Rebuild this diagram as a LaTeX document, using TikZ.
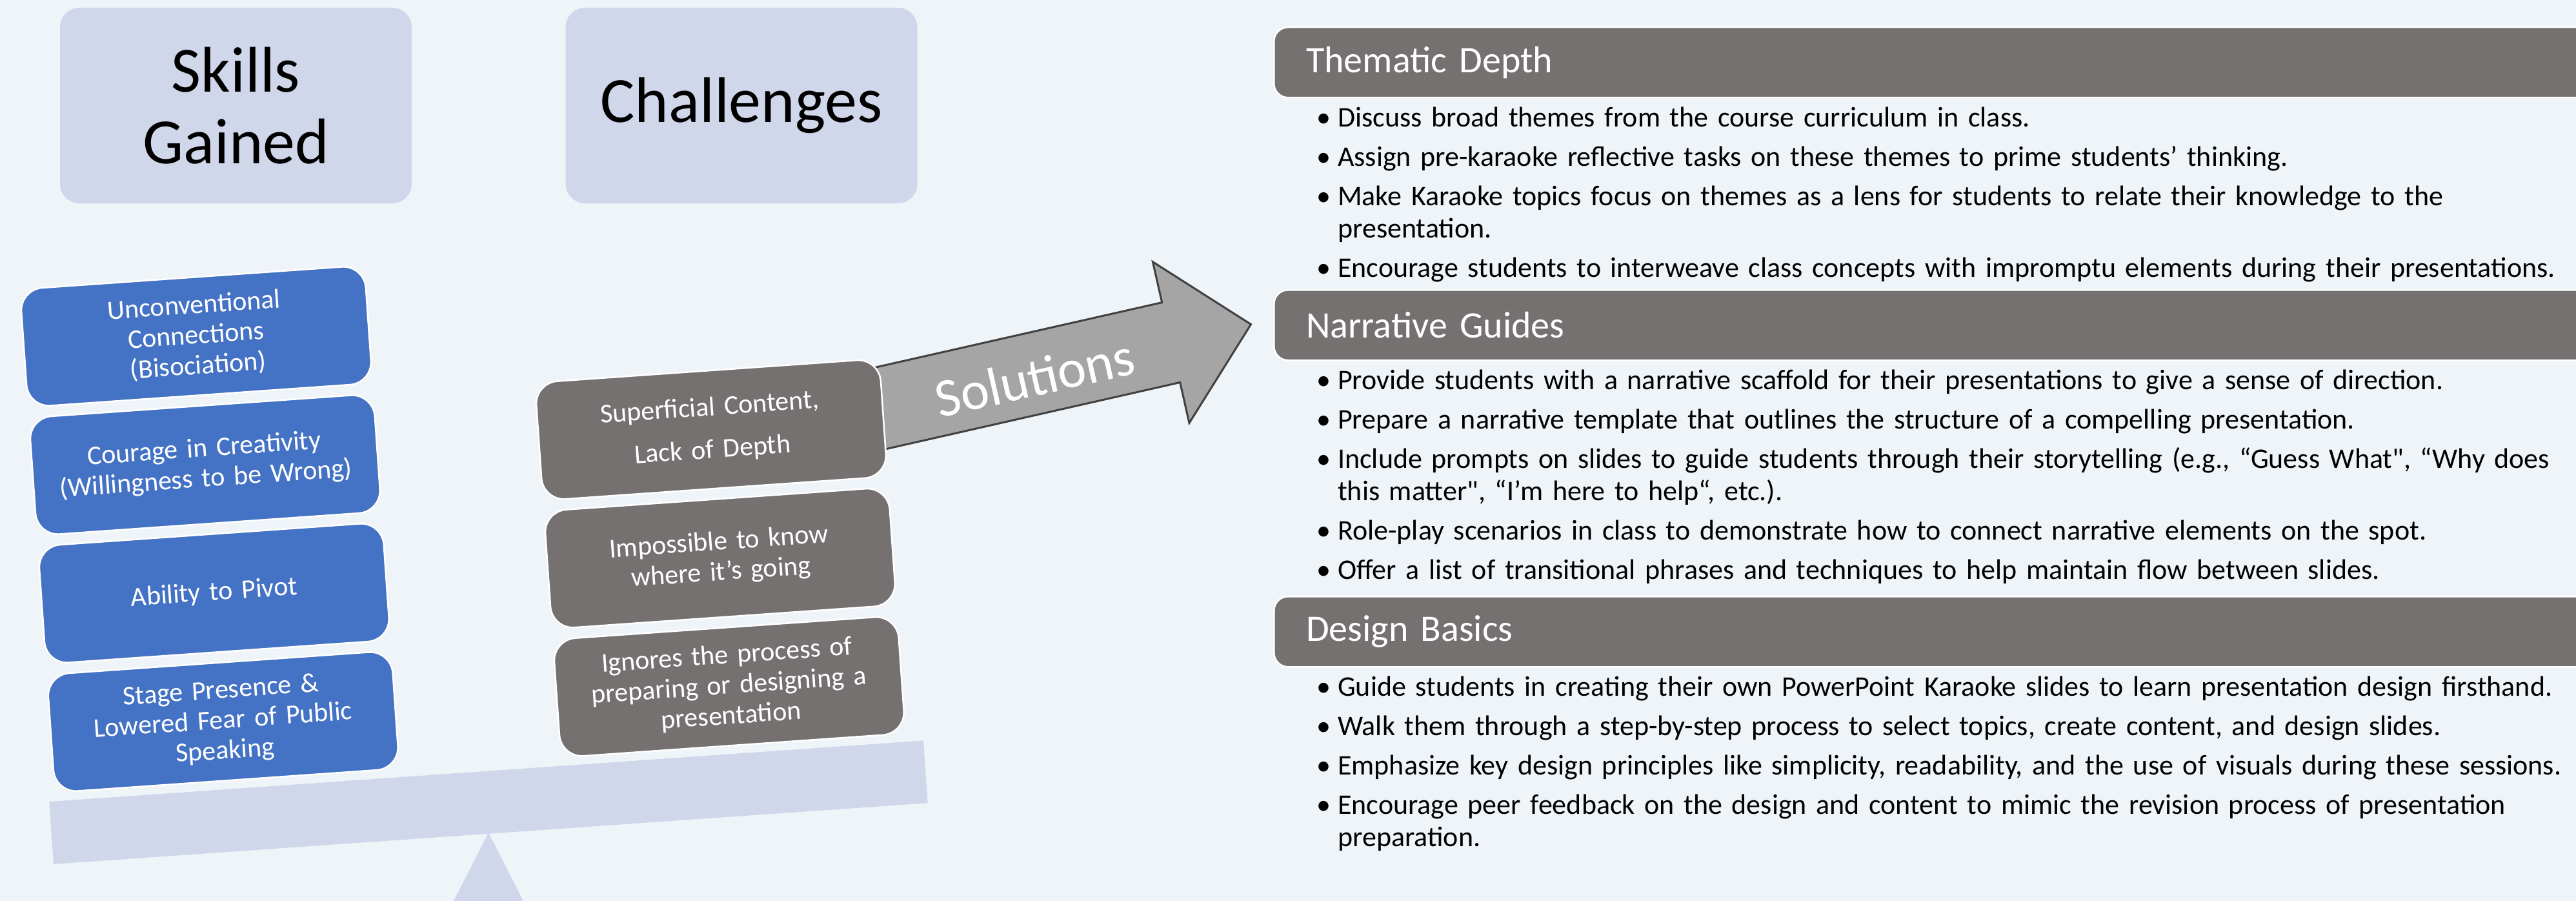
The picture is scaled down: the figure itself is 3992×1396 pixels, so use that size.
\documentclass[tikz,border=0pt]{standalone}
\usepackage{fontspec}
\setmainfont{Carlito}[Ligatures=TeXOff]
\usetikzlibrary{positioning}

\definecolor{paper}{HTML}{EFF4F9}
\definecolor{lavender}{HTML}{D1D7EA}
\definecolor{skillblue}{HTML}{4472C4}
\definecolor{issuegrey}{HTML}{767171}
\definecolor{arrowgrey}{HTML}{A5A5A5}
\definecolor{arrowline}{HTML}{404040}

\newcommand{\firstpt}{\hangindent=33pt\hangafter=1\makebox[33pt][l]{\textbullet}}
\newcommand{\nextpt}{\par\vspace{11pt}\noindent\firstpt}

\begin{document}
\begin{tikzpicture}[
            x=1pt, y=-1pt,
            headbox/.style={rectangle, fill=lavender, rounded corners=30pt,
                minimum width=545pt, minimum height=303pt, align=center,
                font=\fontsize{100}{111}\selectfont
            },
            skill/.style={rectangle, draw=white, line width=2.5pt, fill=skillblue,
                rounded corners=35pt, minimum width=535pt, minimum height=183pt,
                text width=490pt, align=center, text=white,
                font=\fontsize{42}{47}\selectfont
            },
            issue/.style={skill, fill=issuegrey},
            beam/.style={rectangle, fill=lavender, inner sep=0pt,
                minimum width=1358pt, minimum height=97pt},
            bar/.style={rectangle, draw=white, line width=2.5pt, fill=issuegrey,
                rounded corners=22pt, minimum width=2080pt, minimum height=109pt,
                anchor=north west, text width=1980pt, align=left, text=white,
                inner xsep=50pt, font=\fontsize{58}{70}\selectfont
            },
            bullets/.style={anchor=base west, inner sep=0pt, text width=2000pt,
                align=left, font=\fontsize{44}{50}\selectfont}
        ]
            \useasboundingbox (0,0) rectangle (3992,1396);
            \clip (0,0) rectangle (3992,1396);
            \fill[paper] (0,0) rectangle (3992,1396);

            % Tiêu đề hai cột
            \node [headbox] (skills) at (365.5,163.5) {Skills\\Gained};
            \node [headbox] (challenges) at (1149,163.5) {Challenges};

            % Mũi tên Solutions
            \begin{scope}[shift={(1369,631.5)}, rotate=12.76, transform shape]
                \draw [fill=arrowgrey, draw=arrowline, line width=3pt, line join=miter]
                    (-40,-63.5) -- (457,-63.5) -- (457,-128) -- (584,0)
                    -- (457,128) -- (457,63.5) -- (-40,63.5) -- cycle;
                \node [text=white, font=\fontsize{84}{100}\selectfont] (solutions) at (239,6) {Solutions};
            \end{scope}

            % Cân
            \fill [lavender] (757,1290) -- (811,1396) -- (703,1396) -- cycle;
            \begin{scope}[shift={(304,521)}, rotate=4, transform shape]
                \node [beam] (beam) at (401.5,752) {};
                % Đặt các node
                \node [skill] (unconv) at (0,0) {Unconventional\\Connections\\(Bisociation)};
                \node [skill, below=14pt of unconv] (courage) {Courage in Creativity\\(Willingness to be Wrong)};
                \node [skill, below=14pt of courage] (pivot) {Ability to Pivot};
                \node [skill, below=14pt of pivot] (stage) {Stage Presence \&\\Lowered Fear of Public\\Speaking};
                \node [issue] (shallow) at (786,200) {Superficial Content,\\[19pt]Lack of Depth};
                \node [issue, below=14pt of shallow] (unknown) {Impossible to know\\where it’s going};
                \node [issue, below=14pt of unknown] (process) {Ignores the process of\\preparing or designing a\\presentation};
            \end{scope}

            % Các giải pháp
            \node [bar] (thematic) at (1973,41) {Thematic Depth};
            \node [bullets] (thematiclist) at ([xshift=67pt, yshift=-44pt]thematic.south west) {%
                \firstpt Discuss broad themes from the course curriculum in class.
                \nextpt Assign pre-karaoke reflective tasks on these themes to prime students’ thinking.
                \nextpt Make Karaoke topics focus on themes as a lens for students to relate their knowledge to the\newline presentation.
                \nextpt Encourage students to interweave class concepts with impromptu elements during their presentations.\par};

            \node [bar] (narrative) at (1973,448) {Narrative Guides};
            \node [bullets] (narrativelist) at ([xshift=67pt, yshift=-44pt]narrative.south west) {%
                \firstpt Provide students with a narrative scaffold for their presentations to give a sense of direction.
                \nextpt Prepare a narrative template that outlines the structure of a compelling presentation.
                \nextpt Include prompts on slides to guide students through their storytelling (e.g., “Guess What", “Why does\newline this matter", “I’m here to help“, etc.).
                \nextpt Role-play scenarios in class to demonstrate how to connect narrative elements on the spot.
                \nextpt Offer a list of transitional phrases and techniques to help maintain flow between slides.\par};

            \node [bar] (design) at (1973,923) {Design Basics};
            \node [bullets] (designlist) at ([xshift=67pt, yshift=-44pt]design.south west) {%
                \firstpt Guide students in creating their own PowerPoint Karaoke slides to learn presentation design firsthand.
                \nextpt Walk them through a step-by-step process to select topics, create content, and design slides.
                \nextpt Emphasize key design principles like simplicity, readability, and the use of visuals during these sessions.
                \nextpt Encourage peer feedback on the design and content to mimic the revision process of presentation\newline preparation.\par};
        \end{tikzpicture}
\end{document}
